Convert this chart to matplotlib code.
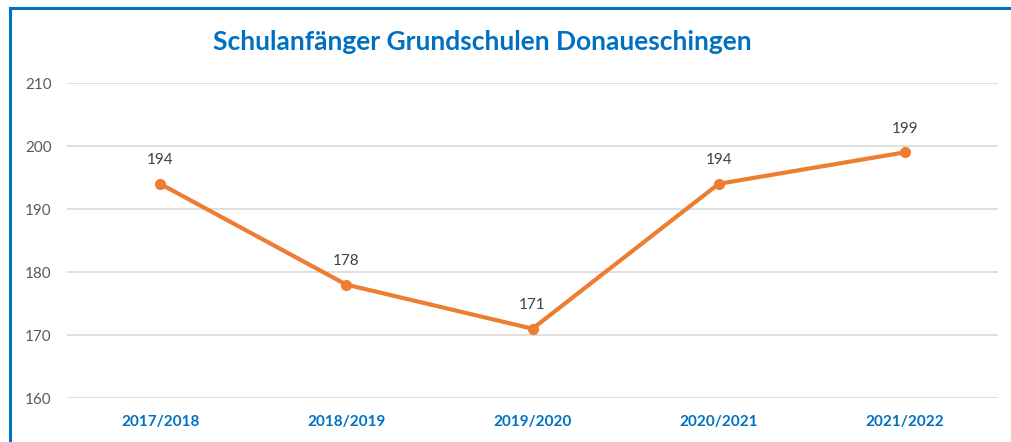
import matplotlib.pyplot as plt
from matplotlib.lines import Line2D

# --- data ---
years = ["2017/2018", "2018/2019", "2019/2020", "2020/2021", "2021/2022"]
counts = [194, 178, 171, 194, 199]
yticks = [160, 170, 180, 190, 200, 210]

plt.rcParams['font.family'] = ['Lato', 'DejaVu Sans']

blue = "#0070C0"
orange = "#ED7D31"

fig = plt.figure(figsize=(10.12, 4.42), dpi=100)
ax = fig.add_axes([0.0662, 0.0995, 0.9200, 0.7127])

x = list(range(len(years)))
ax.plot(x, counts, color=orange, linewidth=3, marker="o", markersize=7,
        solid_capstyle="round", zorder=3)

for xi, v in zip(x, counts):
    ax.annotate(str(v), (xi, v), xytext=(0, 12), textcoords="offset points",
                ha="center", va="bottom", fontsize=11, color="#404040")

ax.set_xlim(-0.5, 4.5)
ax.set_ylim(160, 210)
ax.set_yticks(yticks)
ax.set_xticks(x)
ax.set_xticklabels(years, fontsize=11, fontweight="bold", color=blue)
ax.tick_params(axis="y", labelsize=11, labelcolor="#595959", length=0, pad=11)
ax.tick_params(axis="x", length=0, pad=12)
ax.grid(axis="y", color="#D9D9D9", linewidth=1.2)
ax.set_axisbelow(True)
for s in ax.spines.values():
    s.set_visible(False)

fig.text(0.477, 0.905, "Schulanfänger Grundschulen Donaueschingen",
         ha="center", va="center", fontsize=19, fontweight="bold", color=blue)

# blue frame on top and left
fig.add_artist(Line2D([0.0098, 0.0098], [0, 0.982], color=blue, linewidth=2.2,
                      transform=fig.transFigure))
fig.add_artist(Line2D([0.0098, 1.0], [0.982, 0.982], color=blue, linewidth=2.2,
                      transform=fig.transFigure))

fig.savefig("out.png", dpi=100)
